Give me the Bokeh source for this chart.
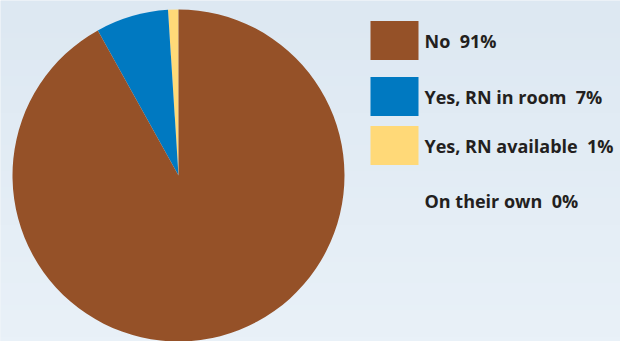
import numpy as np
from bokeh.plotting import figure
from bokeh.models import Range1d, ColumnDataSource
from bokeh.core.properties import value
from bokeh.embed import file_html
from bokeh.resources import INLINE

# ---- data ----
categories = ["No", "Yes, RN in room", "Yes, RN available", "On their own"]
percents = [91, 7, 1, 0]
colors = ["#955128", "#0079C1", "#FFD978", None]

# ---- layout ----
W, H = 620, 341
cx, cy, r = 178, H - 175, 166
row_y = [40, 96, 145, 200]   # legend rows (pixels from top)

p = figure(width=W, height=H, output_backend="svg", toolbar_location=None,
           x_range=Range1d(0, W), y_range=Range1d(0, H), min_border=0)
p.axis.visible = False
p.grid.visible = False
p.outline_line_color = None
p.background_fill_color = "#e2ebf4"
p.border_fill_color = "#e2ebf4"

# background vertical gradient
top = np.array([221, 232, 242])
bot = np.array([233, 241, 248])
n = 64
img = np.zeros((n, 1), dtype=np.uint32)
view = img.view(dtype=np.uint8).reshape((n, 1, 4))
for i in range(n):
    t = i / (n - 1)
    c = bot * (1 - t) + top * t  # row 0 is at bottom
    view[i, 0, 0:3] = c.astype(np.uint8)
    view[i, 0, 3] = 255
p.image_rgba(image=[img], x=0, y=0, dw=W, dh=H)

# pie wedges, starting at 12 o'clock, counter-clockwise: yellow, blue, brown
vals = np.array(percents, dtype=float)
order = [2, 1, 0]
total = vals.sum()
start = np.pi / 2
starts, ends, cols = [], [], []
for k in order:
    a = vals[k] / total * 2 * np.pi
    starts.append(start)
    ends.append(start + a)
    cols.append(colors[k])
    start += a
src = ColumnDataSource(dict(x=[cx] * 3, y=[cy] * 3, s=starts, e=ends, c=cols))
p.wedge(x="x", y="y", radius=r, start_angle="s", end_angle="e",
        fill_color="c", line_color=None, source=src)

# legend
sq_x0, sq_x1 = 370, 418
for i, (cat, pc, col) in enumerate(zip(categories, percents, colors)):
    yc = H - row_y[i]
    if col is not None:
        p.quad(left=sq_x0, right=sq_x1, bottom=yc - 19.5, top=yc + 19.5,
               fill_color=col, line_color=None)
    p.text(x=[424], y=[yc], text=[f"{cat}\u00a0\u00a0{pc}%"],
           text_font=value("Open Sans"), text_font_style="bold",
           text_font_size="18px", text_color="#231f20",
           text_baseline="middle", text_align="left")

open("out.html", "w").write(file_html(p, INLINE))
